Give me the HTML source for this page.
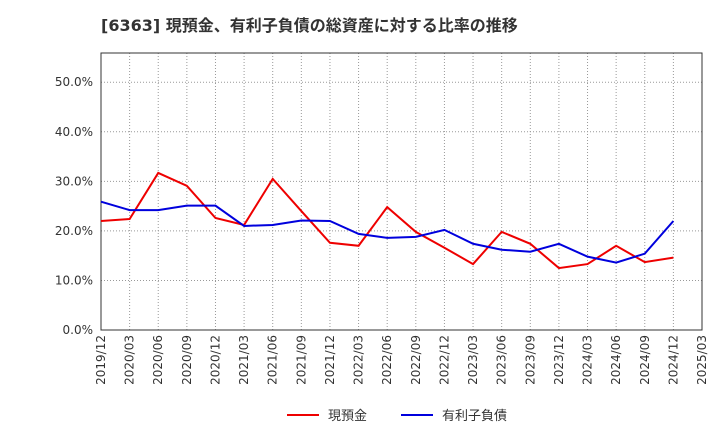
<!DOCTYPE html>
<html><head><meta charset="utf-8"><style>
body{margin:0;background:#fff;font-family:"Liberation Sans","Noto Sans CJK JP",sans-serif}
</style></head><body>
<svg id="chart" width="720" height="440" xmlns="http://www.w3.org/2000/svg" font-family="DejaVu Sans, Noto Sans CJK JP, sans-serif">
<text x="101" y="31" font-size="16" font-weight="bold" fill="#333" font-family="DejaVu Sans, Noto Sans CJK JP, sans-serif">[6363]  現預金、有利子負債の総資産に対する比率の推移</text>
<g id="grid"></g><g id="axes"></g><g id="series"></g>
<g>
<line x1="287" y1="415" x2="319" y2="415" stroke="#e00" stroke-width="2"/>
<text x="328" y="420" font-size="13" fill="#333">現預金</text>
<line x1="401" y1="415" x2="433" y2="415" stroke="#00d" stroke-width="2"/>
<text x="442" y="420" font-size="13" fill="#333">有利子負債</text>
</g>
</svg>
<script>
const categories=["2019/12","2020/03","2020/06","2020/09","2020/12","2021/03","2021/06","2021/09","2021/12","2022/03","2022/06","2022/09","2022/12","2023/03","2023/06","2023/09","2023/12","2024/03","2024/06","2024/09","2024/12","2025/03"];
const cashRatio=[22.0,22.4,31.7,29.1,22.6,21.2,30.5,24.0,17.6,17.0,24.8,19.8,16.6,13.3,19.8,17.4,12.5,13.3,17.0,13.7,14.6];
const debtRatio=[25.9,24.2,24.2,25.1,25.1,21.0,21.2,22.1,22.0,19.4,18.6,18.8,20.2,17.4,16.2,15.8,17.4,14.8,13.6,15.4,22.0];
const yTicks=[0,10,20,30,40,50];
const L=101,R=702,T=53,B=330,yMax=55.9;
const ns="http://www.w3.org/2000/svg";
const x=i=>L+i*(R-L)/(categories.length-1);
const y=v=>B-v/yMax*(B-T);
function mk(t,a,p){const e=document.createElementNS(ns,t);for(const k in a)e.setAttribute(k,a[k]);p.appendChild(e);return e;}
const grid=document.getElementById('grid'),axes=document.getElementById('axes'),ser=document.getElementById('series');
categories.forEach((c,i)=>{
 const g=mk('line',{x1:x(i),x2:x(i),y1:T,y2:B,stroke:'#999','stroke-dasharray':'1,2'},grid);
 
 const t=mk('text',{x:0,y:0,'font-size':12,fill:'#333','text-anchor':'end',transform:`translate(${x(i)+4},${B+5}) rotate(-90)`},axes);
 t.textContent=c;
 
});
yTicks.forEach(v=>{
 const g=mk('line',{x1:L,x2:R,y1:y(v),y2:y(v),stroke:'#999','stroke-dasharray':'1,2'},grid);
 
 const t=mk('text',{x:L-8,y:y(v)+4,'font-size':12,fill:'#333','text-anchor':'end'},axes);
 t.textContent=v.toFixed(1)+'%';
 
});
const fr=mk('rect',{x:L,y:T,width:R-L,height:B-T,fill:'none',stroke:'#333'},axes);

function line(d,col,name){
 const p=mk('polyline',{points:d.map((v,i)=>x(i)+','+y(v)).join(' '),fill:'none',stroke:col,'stroke-width':2},ser);
 
}
line(cashRatio,'#e00','cash-line');
line(debtRatio,'#00d','debt-line');
</script>
</body></html>
